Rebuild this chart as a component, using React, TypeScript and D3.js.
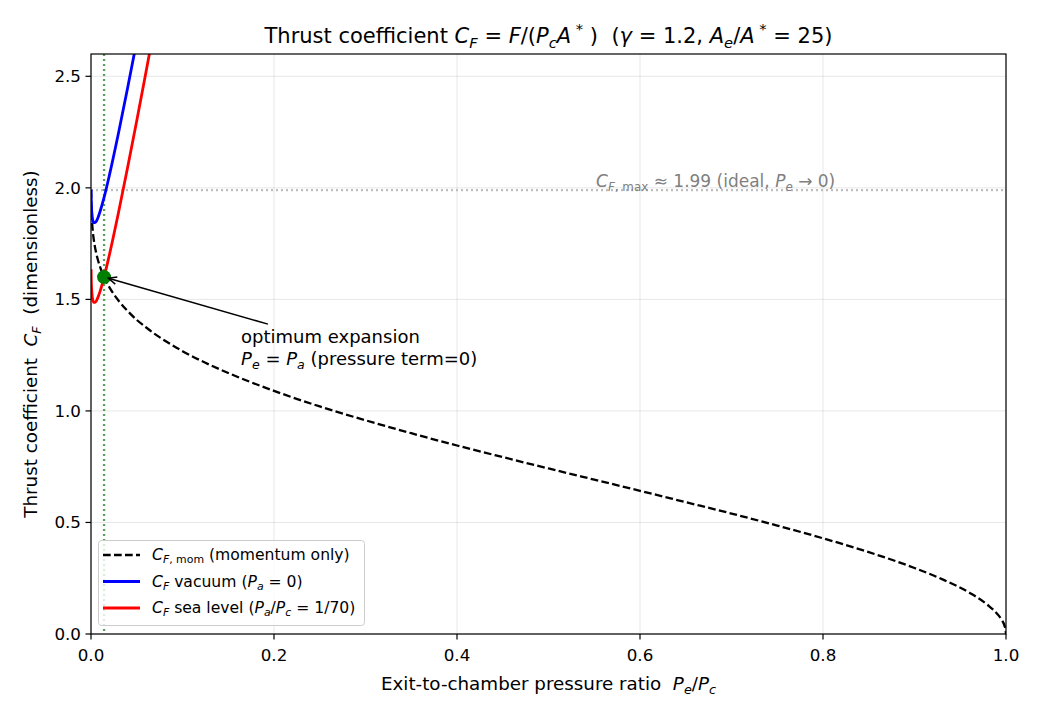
import React from 'react';
import * as d3 from 'd3';

// Exit-to-chamber pressure ratio samples (momentum-only curve)
const X_MOM = [0.0001, 0.0003, 0.0005, 0.001, 0.002, 0.003, 0.005, 0.0075, 0.01, 0.0143, 0.02, 0.03, 0.04, 0.05, 0.06, 0.07, 0.08, 0.1, 0.125, 0.15, 0.2, 0.25, 0.3, 0.35, 0.4, 0.45, 0.5, 0.55, 0.6, 0.65, 0.7, 0.75, 0.8, 0.85, 0.9, 0.93, 0.96, 0.98, 0.99, 0.995, 0.999, 1.0];
const CF_MOM = [1.990, 1.934, 1.904, 1.858, 1.804, 1.769, 1.721, 1.678, 1.645, 1.600, 1.555, 1.495, 1.448, 1.408, 1.375, 1.344, 1.317, 1.268, 1.216, 1.170, 1.090, 1.020, 0.958, 0.900, 0.845, 0.793, 0.742, 0.692, 0.642, 0.591, 0.540, 0.486, 0.429, 0.367, 0.296, 0.246, 0.185, 0.130, 0.092, 0.065, 0.029, 0.0];
// Nozzle curves (vacuum / sea level), left part visible inside axes
const X_NOZ = [0.0001, 0.0003, 0.0005, 0.001, 0.002, 0.003, 0.005, 0.0075, 0.01, 0.0143, 0.02, 0.03, 0.04, 0.05, 0.06, 0.07];
const CF_VAC = [1.993, 1.942, 1.917, 1.883, 1.854, 1.844, 1.846, 1.865, 1.895, 1.957, 2.055, 2.245, 2.448, 2.658, 2.875, 3.094];
const CF_SEA = [1.635, 1.584, 1.559, 1.526, 1.497, 1.487, 1.488, 1.508, 1.537, 1.600, 1.698, 1.888, 2.091, 2.301, 2.517, 2.737];

const X_TICKS = [0, 0.2, 0.4, 0.6, 0.8, 1.0];
const Y_TICKS = [0, 0.5, 1.0, 1.5, 2.0, 2.5];
const OPT_X = 1 / 70;
const OPT_Y = 1.600;
const CF_MAX = 1.99;

const W = 1040, H = 715;
const M = { left: 91, right: 1006, top: 54, bottom: 634 };
const FONT = 'DejaVu Sans';

type Seg = { t: string; it?: boolean; sub?: boolean; sup?: boolean };

function Rich({ segs, size, x, y, anchor = 'start', fill = '#000', transform }: { segs: Seg[]; size: number; x: number; y: number; anchor?: string; fill?: string; transform?: string }) {
  let prev = 0;
  const parts = segs.map((s, i) => {
    const shift = s.sub ? size * 0.22 : s.sup ? -size * 0.42 : 0;
    const dy = shift - prev;
    prev = shift;
    return (
      <tspan key={i} dy={dy} fontStyle={s.it ? 'italic' : 'normal'} fontSize={s.sub || s.sup ? size * 0.7 : size}>{s.t}</tspan>
    );
  });
  return (
    <text x={x} y={y} textAnchor={anchor} fontFamily={FONT} fontSize={size} fill={fill} style={{ whiteSpace: 'pre' }} transform={transform}>{parts}</text>
  );
}

export default function App() {
  const x = d3.scaleLinear().domain([0, 1]).range([M.left, M.right]);
  const y = d3.scaleLinear().domain([0, 2.6]).range([M.bottom, M.top]);
  const line = d3.line<[number, number]>().x(d => x(d[0])).y(d => y(d[1])).curve(d3.curveMonotoneX);
  const momPath = line(X_MOM.map((v, i) => [v, CF_MOM[i]]))!;
  const vacPath = line(X_NOZ.map((v, i) => [v, CF_VAC[i]]))!;
  const seaPath = line(X_NOZ.map((v, i) => [v, CF_SEA[i]]))!;

  // annotation arrow
  const tipX = x(OPT_X), tipY = y(OPT_Y);
  const startX = x(0.1934), startY = y(1.389);
  const ang = Math.atan2(startY - tipY, startX - tipX);
  const shrink = 4.5;
  const hx = tipX + Math.cos(ang) * shrink, hy = tipY + Math.sin(ang) * shrink;
  const hl = 9, hw = 0.42;
  const w1 = [hx + Math.cos(ang + hw) * hl, hy + Math.sin(ang + hw) * hl];
  const w2 = [hx + Math.cos(ang - hw) * hl, hy + Math.sin(ang - hw) * hl];

  const legendItems = [
    { color: '#000', dash: '7.7,3.3', w: 2.3, segs: [{ t: 'C', it: true }, { t: 'F', it: true, sub: true }, { t: ', mom', sub: true }, { t: ' (momentum only)' }] as Seg[] },
    { color: '#0000ff', dash: undefined, w: 2.8, segs: [{ t: 'C', it: true }, { t: 'F', it: true, sub: true }, { t: ' vacuum (' }, { t: 'P', it: true }, { t: 'a', it: true, sub: true }, { t: ' = 0)' }] as Seg[] },
    { color: '#ff0000', dash: undefined, w: 2.8, segs: [{ t: 'C', it: true }, { t: 'F', it: true, sub: true }, { t: ' sea level (' }, { t: 'P', it: true }, { t: 'a', it: true, sub: true }, { t: '/' }, { t: 'P', it: true }, { t: 'c', it: true, sub: true }, { t: ' = 1/70)' }] as Seg[] },
  ];

  return (
    <svg width={W} height={H} style={{ position: 'absolute', left: 0, top: 0, background: '#fff' }}>
      <rect x={0} y={0} width={W} height={H} fill="#fff" />
      <defs>
        <clipPath id="plotclip">
          <rect x={M.left} y={M.top} width={M.right - M.left} height={M.bottom - M.top} />
        </clipPath>
      </defs>
      {/* grid */}
      <g stroke="#b0b0b0" strokeOpacity={0.3} strokeWidth={1}>
        {X_TICKS.map(t => <line key={'gx' + t} x1={x(t)} x2={x(t)} y1={M.top} y2={M.bottom} />)}
        {Y_TICKS.map(t => <line key={'gy' + t} x1={M.left} x2={M.right} y1={y(t)} y2={y(t)} />)}
      </g>
      <g clipPath="url(#plotclip)">
        {/* ideal max reference */}
        <line x1={M.left} x2={M.right} y1={y(CF_MAX)} y2={y(CF_MAX)} stroke="#bebebe" strokeWidth={2.3} strokeDasharray="2,3" />
        {/* optimum vertical */}
        <line x1={x(OPT_X)} x2={x(OPT_X)} y1={M.top} y2={M.bottom} stroke="#3a8f3a" strokeOpacity={0.85} strokeWidth={2.3} strokeDasharray="2,3" />
        <path d={momPath} fill="none" stroke="#000" strokeWidth={2.3} strokeDasharray="7.7,3.3" />
        <path d={vacPath} fill="none" stroke="#0000ff" strokeWidth={2.8} />
        <path d={seaPath} fill="none" stroke="#ff0000" strokeWidth={2.8} />
        <circle cx={x(OPT_X)} cy={y(OPT_Y)} r={7} fill="#008000" />
      </g>
      {/* CF max label */}
      <Rich x={x(0.552)} y={y(CF_MAX) - 3} size={17} fill="#808080" segs={[{ t: 'C', it: true }, { t: 'F', it: true, sub: true }, { t: ', max', sub: true }, { t: ' ≈ 1.99 (ideal, ' }, { t: 'P', it: true }, { t: 'e', it: true, sub: true }, { t: ' → 0)' }]} />
      {/* annotation */}
      <path d={`M${startX},${startY}L${hx},${hy}`} stroke="#000" strokeWidth={1.5} fill="none" />
      <path d={`M${w1[0]},${w1[1]}L${hx},${hy}L${w2[0]},${w2[1]}`} stroke="#000" strokeWidth={1.5} fill="none" />
      <text x={x(0.164)} y={343} fontFamily={FONT} fontSize={18} fill="#000">optimum expansion</text>
      <Rich x={x(0.164)} y={365} size={18} segs={[{ t: 'P', it: true }, { t: 'e', it: true, sub: true }, { t: ' = ' }, { t: 'P', it: true }, { t: 'a', it: true, sub: true }, { t: ' (pressure term=0)' }]} />
      {/* legend */}
      <g>
        <rect x={98.5} y={540.5} width={266} height={85} rx={3} fill="#fff" fillOpacity={0.8} stroke="#cccccc" strokeWidth={1} />
        {legendItems.map((it, i) => {
          const ly = 555 + i * 26.5;
          return (
            <g key={i}>
              <line x1={103} x2={140} y1={ly} y2={ly} stroke={it.color} strokeWidth={it.w} strokeDasharray={it.dash} />
              <Rich x={152} y={ly + 5} size={15.6} segs={it.segs} />
            </g>
          );
        })}
      </g>
      {/* axes frame */}
      <rect x={M.left} y={M.top} width={M.right - M.left} height={M.bottom - M.top} fill="none" stroke="#000" strokeWidth={1.2} />
      {/* ticks */}
      <g stroke="#000" strokeWidth={1.2}>
        {X_TICKS.map(t => <line key={'tx' + t} x1={x(t)} x2={x(t)} y1={M.bottom} y2={M.bottom + 5.5} />)}
        {Y_TICKS.map(t => <line key={'ty' + t} x1={M.left - 5.5} x2={M.left} y1={y(t)} y2={y(t)} />)}
      </g>
      <g fontFamily={FONT} fontSize={16.7} fill="#000">
        {X_TICKS.map(t => <text key={'lx' + t} x={x(t)} y={M.bottom + 27} textAnchor="middle">{d3.format('.1f')(t)}</text>)}
        {Y_TICKS.map(t => <text key={'ly' + t} x={M.left - 10} y={y(t) + 6} textAnchor="end">{d3.format('.1f')(t)}</text>)}
      </g>
      {/* axis labels */}
      <Rich x={(M.left + M.right) / 2} y={690} anchor="middle" size={18.3} segs={[{ t: 'Exit-to-chamber pressure ratio  ' }, { t: 'P', it: true }, { t: 'e', it: true, sub: true }, { t: '/' }, { t: 'P', it: true }, { t: 'c', it: true, sub: true }]} />
      <Rich x={0} y={0} anchor="middle" size={18.3} transform={`translate(37,${(M.top + M.bottom) / 2}) rotate(-90)`} segs={[{ t: 'Thrust coefficient  ' }, { t: 'C', it: true }, { t: 'F', it: true, sub: true }, { t: '  (dimensionless)' }]} />
      {/* title */}
      <Rich x={(M.left + M.right) / 2} y={43} anchor="middle" size={21} segs={[
        { t: 'Thrust coefficient ' }, { t: 'C', it: true }, { t: 'F', it: true, sub: true }, { t: ' = ' }, { t: 'F', it: true }, { t: '/(' }, { t: 'P', it: true }, { t: 'c', it: true, sub: true }, { t: 'A', it: true }, { t: ' *', sup: true }, { t: ' )  (' }, { t: 'γ', it: true }, { t: ' = 1.2, ' }, { t: 'A', it: true }, { t: 'e', it: true, sub: true }, { t: '/' }, { t: 'A', it: true }, { t: ' *', sup: true }, { t: ' = 25)' }
      ]} />
    </svg>
  );
}
